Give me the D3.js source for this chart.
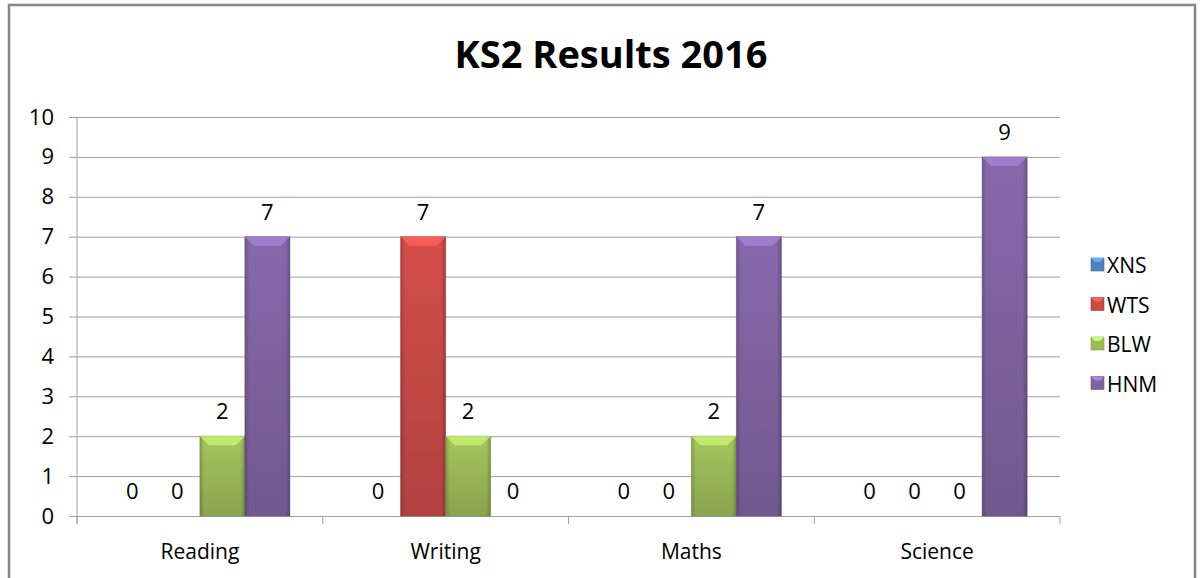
<!DOCTYPE html>
<html>
<head>
<meta charset="utf-8">
<script src="https://cdn.jsdelivr.net/npm/d3@7"></script>
<style>
  body { margin: 0; background: #fff; font-family: "Open Sans", "Noto Sans", sans-serif; }
  .tick text { font-family: "Open Sans", "Noto Sans", sans-serif; fill: #000; }
</style>
</head>
<body>
<div id="chart"></div>
<script>
// chart data
const categories = ["Reading", "Writing", "Maths", "Science"];
const seriesNames = ["XNS", "WTS", "BLW", "HNM"];
const xnsValues = [0, 0, 0, 0];
const wtsValues = [0, 7, 0, 0];
const blwValues = [2, 2, 2, 0];
const hnmValues = [7, 0, 7, 9];
const yTicks = [0, 1, 2, 3, 4, 5, 6, 7, 8, 9, 10];
const seriesColours = ["#4F81BD", "#C84A47", "#9BBB59", "#8064A2"];

const width = 1203, height = 578;
const margin = { left: 77, right: 143, top: 117, bottom: 62 };

const seriesValues = [xnsValues, wtsValues, blwValues, hnmValues];
const data = [];
categories.forEach(function(c, i) {
    seriesNames.forEach(function(s, j) {
        data.push({ category: c, series: s, value: seriesValues[j][i], colour: seriesColours[j] });
    });
});

const svg = d3.select("#chart").append("svg")
    .attr("width", width)
    .attr("height", height);

// chart frame
svg.append("rect")
    .attr("x", 9).attr("y", 5)
    .attr("width", 1186).attr("height", 600)
    .attr("fill", "none")
    .attr("stroke", "#868686")
    .attr("stroke-width", 2.5);

svg.append("text")
    .attr("x", 611).attr("y", 68)
    .attr("text-anchor", "middle")
    .style("font-size", "38px")
    .style("font-weight", "bold")
    .text("KS2 Results 2016");

const innerWidth = width - margin.left - margin.right;
const innerHeight = height - margin.top - margin.bottom;

const g = svg.append("g")
    .attr("transform", `translate(${margin.left},${margin.top})`);

const x0 = d3.scaleBand().domain(categories).range([0, innerWidth]);
const x1 = d3.scaleBand().domain(seriesNames).range([0, x0.bandwidth()]).paddingOuter(0.73);
const y = d3.scaleLinear().domain([0, 10]).range([innerHeight, 0]);

// gradients for the bevelled bars
const defs = svg.append("defs");
seriesColours.forEach(function(col, i) {
    const c = d3.color(col);
    const grad = defs.append("linearGradient")
        .attr("id", "grad" + i)
        .attr("x1", 0).attr("y1", 0).attr("x2", 0).attr("y2", 1);
    grad.append("stop").attr("offset", "0%").attr("stop-color", c.brighter(0.15));
    grad.append("stop").attr("offset", "100%").attr("stop-color", c.darker(0.35));
});
const side = defs.append("linearGradient")
    .attr("id", "side").attr("x1", 0).attr("x2", 1).attr("y1", 0).attr("y2", 0);
side.append("stop").attr("offset", "0%").attr("stop-color", "#000").attr("stop-opacity", 0.18);
side.append("stop").attr("offset", "10%").attr("stop-color", "#000").attr("stop-opacity", 0);
side.append("stop").attr("offset", "90%").attr("stop-color", "#000").attr("stop-opacity", 0);
side.append("stop").attr("offset", "100%").attr("stop-color", "#000").attr("stop-opacity", 0.22);

// gridlines + y axis
const yAxisG = g.append("g")
    .call(d3.axisLeft(y).tickValues(yTicks).tickSize(8).tickPadding(15));
yAxisG.select(".domain").remove();
yAxisG.selectAll(".tick line").attr("stroke", "#a0a0a0");
yAxisG.selectAll(".tick text").style("font-size", "22px");
yAxisG.selectAll(".tick").append("line")
    .attr("x1", 0).attr("x2", innerWidth)
    .attr("stroke", "#a0a0a0");
g.append("line")
    .attr("x1", 0).attr("x2", 0)
    .attr("y1", 0).attr("y2", innerHeight + 8)
    .attr("stroke", "#a0a0a0");

// category axis
const xAxisG = g.append("g")
    .attr("transform", `translate(0,${innerHeight})`)
    .call(d3.axisBottom(x0).tickSize(0).tickPadding(28));
xAxisG.select(".domain").remove();
xAxisG.selectAll(".tick text").style("font-size", "21px");
g.selectAll(".cat-tick")
    .data(categories.concat(["end"]))
    .enter().append("line")
    .attr("x1", function(d, i) { return i * x0.step(); })
    .attr("x2", function(d, i) { return i * x0.step(); })
    .attr("y1", innerHeight).attr("y2", innerHeight + 8)
    .attr("stroke", "#a0a0a0");

// bars
const bars = g.selectAll(".bar")
    .data(data.filter(function(d) { return d.value > 0; }))
    .enter().append("g")
    .attr("class", "bar")
    .attr("transform", function(d) { return `translate(${x0(d.category) + x1(d.series)},0)`; });

bars.append("rect")
    .attr("y", function(d) { return y(d.value); })
    .attr("width", x1.bandwidth())
    .attr("height", function(d) { return y(0) - y(d.value); })
    .attr("fill", function(d) { return "url(#grad" + seriesNames.indexOf(d.series) + ")"; })
    .attr("stroke", function(d) { return d3.color(d.colour).darker(0.6); })
    .attr("stroke-opacity", 0.5)
    .attr("stroke-width", 1);

bars.append("rect")
    .attr("y", function(d) { return y(d.value); })
    .attr("width", x1.bandwidth())
    .attr("height", function(d) { return y(0) - y(d.value); })
    .attr("fill", "url(#side)");

// top bevel
bars.append("path")
    .attr("d", function(d) {
        const w = x1.bandwidth(), t = y(d.value), b = 9;
        return `M0,${t} L${w},${t} L${w - b},${t + b} L${b},${t + b} Z`;
    })
    .attr("fill", function(d) { return d3.color(d.colour).brighter(0.7); })
    .attr("opacity", 0.85);

// value labels
g.selectAll(".value-label")
    .data(data)
    .enter().append("text")
    .attr("class", "value-label")
    .attr("x", function(d) { return x0(d.category) + x1(d.series) + x1.bandwidth() / 2; })
    .attr("y", function(d) { return y(d.value) - 17; })
    .attr("text-anchor", "middle")
    .style("font-size", "22px")
    .text(function(d) { return d.value; });

// legend
const legend = svg.append("g")
    .attr("transform", "translate(1091,265)");
const item = legend.selectAll(".legend-item")
    .data(seriesNames)
    .enter().append("g")
    .attr("transform", function(d, i) { return `translate(0,${i * 39.5})`; });
item.append("rect")
    .attr("x", 0).attr("y", -7)
    .attr("width", 13).attr("height", 13)
    .attr("fill", function(d, i) { return seriesColours[i]; })
    .attr("stroke", function(d, i) { return d3.color(seriesColours[i]).darker(0.5); })
    .attr("stroke-width", 0.6);
item.append("path")
    .attr("d", "M0,-7 L13,-7 L9,-3 L4,-3 Z")
    .attr("fill", function(d, i) { return d3.color(seriesColours[i]).brighter(0.8); });
item.append("text")
    .attr("x", 16).attr("y", 8)
    .style("font-size", "21px")
    .text(function(d) { return d; });
</script>
</body>
</html>
